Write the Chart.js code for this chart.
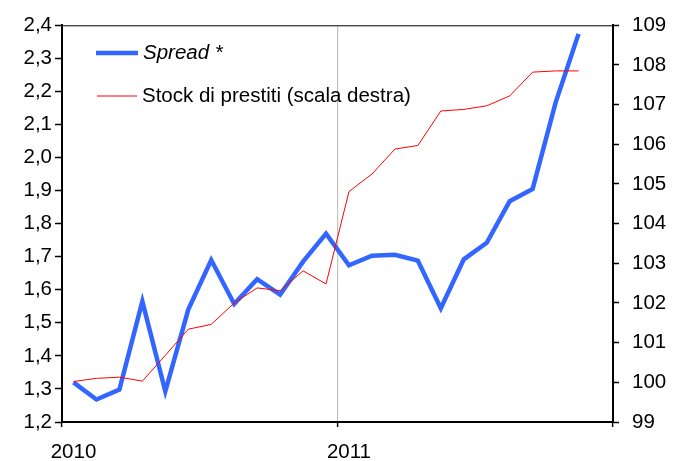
<!DOCTYPE html>
<html>
<head>
<meta charset="utf-8">
<script src="https://cdn.jsdelivr.net/npm/chart.js@4/dist/chart.umd.min.js"></script>
<style>
  html, body { margin: 0; padding: 0; background: #fff; }
  #wrap { width: 678px; height: 461px; }
</style>
</head>
<body>
<div id="wrap"><canvas id="chart" width="678" height="461"></canvas></div>
<script>
// mesi: gen 2010 - nov 2011
const months = [
  'gen 10', 'feb 10', 'mar 10', 'apr 10', 'mag 10', 'giu 10',
  'lug 10', 'ago 10', 'set 10', 'ott 10', 'nov 10', 'dic 10',
  'gen 11', 'feb 11', 'mar 11', 'apr 11', 'mag 11', 'giu 11',
  'lug 11', 'ago 11', 'set 11', 'ott 11', 'nov 11',
];
const spread = [
  1.32, 1.268, 1.298, 1.565, 1.293, 1.54, 1.69, 1.557, 1.632, 1.585, 1.685, 1.77,
  1.674, 1.703, 1.706, 1.688, 1.544, 1.692, 1.742, 1.868, 1.905, 2.166, 2.374,
];
const stock = [
  100.02, 100.1, 100.13, 100.03, 100.68, 101.34, 101.46, 102.0, 102.38, 102.31, 102.81, 102.48,
  104.81, 105.25, 105.88, 105.97, 106.84, 106.88, 106.97, 107.22, 107.82, 107.85, 107.85,
];
const yearLabels = ['2010', '2011'];
const seriesNames = ['Spread *', 'Stock di prestiti (scala destra)'];

const FONT = '"Liberation Sans", Arial, Helvetica, sans-serif';
const FSIZE = 20.5;
const BLUE = '#3366ff';
const RED = '#ff0000';

// punto a metà mese
const toPoints = (vals) => vals.map((v, i) => ({ x: i + 0.5, y: v }));

const frame = {
  id: 'frame',
  beforeDatasetsDraw(chart) {
    const { ctx, chartArea: a } = chart;
    ctx.save();
    ctx.strokeStyle = '#000';
    ctx.lineWidth = 1;
    ctx.beginPath();
    ctx.moveTo(a.left, a.top + 0.5);
    ctx.lineTo(a.right, a.top + 0.5);
    ctx.stroke();
    ctx.restore();
  },
  afterDraw(chart) {
    const { ctx } = chart;
    const rows = [
      { y: 53, x0: 96, x1: 138, tx: 143, italic: true },
      { y: 96, x0: 97, x1: 137, tx: 142, italic: false },
    ];
    ctx.save();
    chart.data.datasets.forEach((ds, i) => {
      const r = rows[i];
      ctx.strokeStyle = ds.borderColor;
      ctx.lineWidth = ds.borderWidth;
      ctx.beginPath();
      ctx.moveTo(r.x0, r.y);
      ctx.lineTo(r.x1, r.y);
      ctx.stroke();
      ctx.fillStyle = '#000';
      ctx.font = (r.italic ? 'italic ' : '') + FSIZE + 'px ' + FONT;
      ctx.textBaseline = 'middle';
      ctx.textAlign = 'left';
      ctx.fillText(ds.label, r.tx, r.y);
    });
    ctx.restore();
  },
};

new Chart(document.getElementById('chart'), {
  type: 'line',
  data: {
    datasets: [
      {
        label: seriesNames[0],
        data: toPoints(spread),
        yAxisID: 'y',
        borderColor: BLUE,
        borderWidth: 4.5,
        pointRadius: 0,
        tension: 0,
        order: 1,
      },
      {
        label: seriesNames[1],
        data: toPoints(stock),
        yAxisID: 'y1',
        borderColor: RED,
        borderWidth: 1,
        pointRadius: 0,
        tension: 0,
        order: 0,
      },
    ],
  },
  options: {
    responsive: false,
    devicePixelRatio: 1,
    animation: false,
    layout: { padding: { top: 22, left: 0, right: 0, bottom: 0 } },
    plugins: { legend: { display: false }, tooltip: { enabled: false } },
    scales: {
      x: {
        type: 'linear',
        min: 0,
        max: months.length + 1,
        afterBuildTicks: (s) => {
          s.ticks = [0, 0.5, 12, 12.5, 24].map((v) => ({ value: v }));
        },
        afterFit: (s) => { s.height = 39; },
        border: { display: true, color: '#000', width: 2 },
        grid: {
          drawOnChartArea: true,
          color: (c) => (c.tick && c.tick.value === 12 ? '#c4c4c4' : 'rgba(0,0,0,0)'),
          lineWidth: 1.2,
          tickColor: (c) => (c.tick && Number.isInteger(c.tick.value) ? '#000' : 'rgba(0,0,0,0)'),
          tickLength: 5,
          tickWidth: 1.5,
        },
        ticks: {
          autoSkip: false,
          maxRotation: 0,
          padding: 13,
          color: '#000',
          font: { family: FONT, size: FSIZE },
          callback: (v) => (v === 0.5 ? yearLabels[0] : v === 12.5 ? yearLabels[1] : ''),
        },
      },
      y: {
        position: 'left',
        min: 1.2,
        max: 2.4,
        afterFit: (s) => { s.width = 62; },
        border: { display: true, color: '#000', width: 2 },
        grid: { drawOnChartArea: false, tickLength: 7, tickColor: '#000', tickWidth: 1.5 },
        ticks: {
          stepSize: 0.1,
          padding: 3,
          color: '#000',
          font: { family: FONT, size: FSIZE },
          callback: (v) => Number(v).toFixed(1).replace('.', ','),
        },
      },
      y1: {
        position: 'right',
        min: 99,
        max: 109,
        afterFit: (s) => { s.width = 65; },
        border: { display: true, color: '#000', width: 2 },
        grid: { drawOnChartArea: false, tickLength: 6, tickColor: '#000', tickWidth: 1.5 },
        ticks: {
          stepSize: 1,
          padding: 13,
          color: '#000',
          font: { family: FONT, size: FSIZE },
          callback: (v) => String(v),
        },
      },
    },
  },
  plugins: [frame],
});
</script>
</body>
</html>
